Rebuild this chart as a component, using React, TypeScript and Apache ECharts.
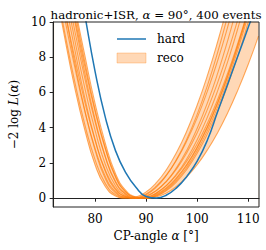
import React, { useEffect, useRef } from "react";
import * as echarts from "echarts";

const ALPHA = [72, 74, 76, 78, 80, 82, 84, 86, 88, 90, 92, 94, 96, 98, 100, 102, 104, 106, 108, 110, 112];

const HARD = [21.5, 17.6, 13.7, 10.4, 7.2, 4.6, 2.7, 1.45, 0.62, 0.1, 0.01, 0.18, 0.6, 1.25, 2.1, 3.3, 4.9, 6.5, 8.1, 9.7, 11.3];

const RECO_1 = [12.4, 9.2, 6.3, 3.87, 1.9, 0.66, 0.13, 0.0, 0.07, 0.36, 0.88, 1.63, 2.62, 3.84, 5.29, 6.97, 8.88, 11.0, 13.4, 16.0, 18.9];
const RECO_2 = [12.6, 9.5, 6.64, 4.18, 2.19, 0.84, 0.2, 0.02, 0.03, 0.24, 0.68, 1.32, 2.19, 3.27, 4.56, 6.08, 7.8, 9.75, 11.9, 14.3, 16.9];
const RECO_3 = [14.2, 10.8, 7.72, 4.98, 2.73, 1.12, 0.3, 0.04, 0.01, 0.2, 0.63, 1.31, 2.22, 3.37, 4.76, 6.39, 8.27, 10.4, 12.7, 15.3, 18.2];
const RECO_4 = [13.5, 10.3, 7.48, 4.93, 2.83, 1.24, 0.37, 0.05, 0.0, 0.12, 0.44, 0.96, 1.68, 2.6, 3.72, 5.04, 6.56, 8.28, 10.2, 12.3, 14.6];
const RECO_5 = [15.0, 11.5, 8.49, 5.68, 3.33, 1.53, 0.49, 0.09, 0.0, 0.1, 0.43, 0.97, 1.75, 2.74, 3.97, 5.41, 7.08, 8.97, 11.1, 13.4, 16.0];
const RECO_6 = [14.0, 10.8, 8.0, 5.45, 3.3, 1.6, 0.55, 0.1, 0.01, 0.06, 0.3, 0.72, 1.33, 2.12, 3.09, 4.25, 5.6, 7.12, 8.84, 10.7, 12.8];
const RECO_7 = [15.6, 12.1, 9.03, 6.25, 3.86, 1.93, 0.71, 0.15, 0.01, 0.04, 0.28, 0.73, 1.39, 2.25, 3.32, 4.6, 6.09, 7.78, 9.68, 11.8, 14.1];
const RECO_8 = [17.3, 13.5, 10.1, 7.11, 4.47, 2.35, 0.9, 0.22, 0.02, 0.02, 0.22, 0.6, 1.18, 1.94, 2.9, 4.06, 5.4, 6.94, 8.66, 10.6, 12.7];
const RECO_9 = [16.2, 12.6, 9.55, 6.8, 4.34, 2.36, 0.96, 0.25, 0.03, 0.01, 0.18, 0.55, 1.12, 1.89, 2.86, 4.03, 5.4, 6.97, 8.74, 10.7, 12.9];
const RECO_10 = [18.0, 14.1, 10.7, 7.72, 5.03, 2.85, 1.2, 0.35, 0.05, 0.0, 0.14, 0.48, 1.02, 1.76, 2.7, 3.84, 5.18, 6.72, 8.46, 10.4, 12.5];
const RECO_11 = [17.1, 13.5, 10.3, 7.48, 4.93, 2.83, 1.24, 0.37, 0.05, 0.0, 0.12, 0.43, 0.94, 1.65, 2.55, 3.65, 4.94, 6.43, 8.12, 10.0, 12.1];
const RECO_12 = [18.1, 14.3, 11.0, 8.1, 5.38, 3.13, 1.4, 0.45, 0.07, 0.0, 0.08, 0.3, 0.68, 1.22, 1.9, 2.74, 3.72, 4.86, 6.16, 7.6, 9.2];

const RECO = [RECO_1, RECO_2, RECO_3, RECO_4, RECO_5, RECO_6, RECO_7, RECO_8, RECO_9, RECO_10, RECO_11, RECO_12];

const X_TICKS = [80, 90, 100, 110];
const Y_TICKS = [0, 2, 4, 6, 8, 10];

const TITLE_PRE = "hadronic+ISR, ";
const TITLE_POST = " = 90°, 400 events";
const LEGEND_HARD = "hard";
const LEGEND_RECO = "reco";

const BLUE = "#1f77b4";
const ORANGE = "#ff7f0e";
const BAND = "rgba(255,127,14,0.3)";
const FONT = "DejaVu Serif";

export default function App() {
  const ref = useRef<HTMLDivElement>(null);
  useEffect(() => {
    if (!ref.current) return;
    const chart = echarts.init(ref.current, undefined, { renderer: "svg" });
    const lower = ALPHA.map((_, i) => Math.min(...RECO.map((r) => r[i])));
    const upper = ALPHA.map((_, i) => Math.max(...RECO.map((r) => r[i])));
    const pairs = (ys: number[]) => ALPHA.map((a, i) => [a, ys[i]]);

    const series: any[] = [
      {
        type: "line",
        name: LEGEND_RECO,
        data: pairs(upper),
        smooth: true,
        symbol: "none",
        silent: true,
        lineStyle: { width: 0, opacity: 0 },
        areaStyle: { color: BAND, opacity: 1, origin: -0.45 },
        z: -3,
      },
      {
        type: "line",
        name: "band-low",
        data: pairs(lower),
        smooth: true,
        symbol: "none",
        silent: true,
        lineStyle: { width: 0, opacity: 0 },
        areaStyle: { color: "#ffffff", opacity: 1, origin: -0.45 },
        z: -2,
      },
      ...RECO.map((r, k) => ({
        type: "line",
        name: "reco" + k,
        data: pairs(r),
        smooth: true,
        symbol: "none",
        silent: true,
        lineStyle: { color: ORANGE, width: 1.1, opacity: 0.65 },
        z: 2,
      })),
      {
        type: "line",
        name: LEGEND_HARD,
        data: pairs(HARD),
        smooth: true,
        symbol: "none",
        silent: true,
        lineStyle: { color: BLUE, width: 1.5 },
        z: 3,
      },
    ];

    const italic = { fontFamily: FONT, fontStyle: "italic", fontSize: 12, color: "#000" };

    chart.setOption({
      animation: false,
      title: {
        text: TITLE_PRE + "{i|α}" + TITLE_POST,
        left: 151,
        top: 4,
        textAlign: "center",
        textStyle: {
          fontFamily: FONT,
          fontSize: 11.8,
          fontWeight: "normal",
          color: "#000",
          rich: { i: { ...italic, fontSize: 11.8 } },
        },
      },
      grid: {
        left: 43,
        right: 7,
        top: 22,
        bottom: 43,
        show: true,
        borderColor: "#222",
        borderWidth: 1,
        backgroundColor: "transparent",
        z: 5,
      },
      xAxis: {
        type: "value",
        min: 71.8,
        max: 112.1,
        name: "CP-angle {i|α} [°]",
        nameLocation: "middle",
        nameGap: 20,
        nameTextStyle: { fontFamily: FONT, fontSize: 12, color: "#000", rich: { i: italic } },
        axisLine: { show: true, lineStyle: { color: "#222", width: 1 } },
        axisTick: { show: true, length: 3.5, lineStyle: { color: "#222" }, customValues: X_TICKS },
        axisLabel: { fontFamily: FONT, fontSize: 12, color: "#000", margin: 6, customValues: X_TICKS },
        splitLine: { show: false },
      },
      yAxis: {
        type: "value",
        min: -0.5,
        max: 10,
        name: "−2 log {i|L}({i|α})",
        nameLocation: "middle",
        nameGap: 25,
        nameRotate: 90,
        nameTextStyle: { fontFamily: FONT, fontSize: 12, color: "#000", rich: { i: italic } },
        axisLine: { show: true, lineStyle: { color: "#222", width: 1 } },
        axisTick: { show: true, length: 3.5, lineStyle: { color: "#222" }, customValues: Y_TICKS },
        axisLabel: { fontFamily: FONT, fontSize: 12, color: "#000", margin: 7, customValues: Y_TICKS },
        splitLine: { show: false },
      },
      graphic: [
        { type: "line", shape: { x1: 117, y1: 39, x2: 146, y2: 39 }, style: { stroke: BLUE, lineWidth: 1.5 }, z: 10 },
        { type: "text", x: 157, y: 39, style: { text: LEGEND_HARD, fontFamily: FONT, fontSize: 12, fill: "#000", verticalAlign: "middle" }, z: 10 },
        { type: "rect", shape: { x: 117, y: 53, width: 29, height: 10 }, style: { fill: BAND, stroke: BAND, lineWidth: 1 }, z: 10 },
        { type: "text", x: 157, y: 58, style: { text: LEGEND_RECO, fontFamily: FONT, fontSize: 12, fill: "#000", verticalAlign: "middle" }, z: 10 },
      ],
      series,
    });
    return () => chart.dispose();
  }, []);
  return <div ref={ref} style={{ position: "absolute", left: 0, top: 0, width: 266, height: 250 }} />;
}
